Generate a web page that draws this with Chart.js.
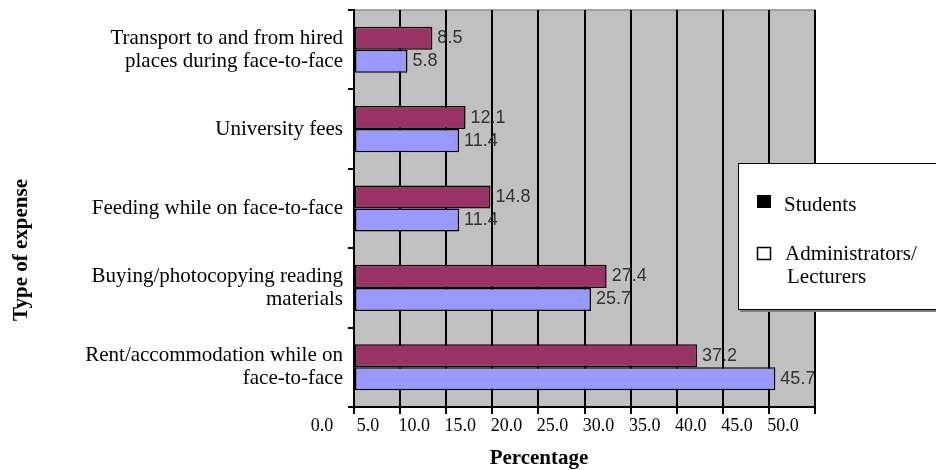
<!DOCTYPE html>
<html>
<head>
<meta charset="utf-8">
<script src="https://cdn.jsdelivr.net/npm/chart.js@4.4.1/dist/chart.umd.min.js"></script>
<style>
  body { margin: 0; background: #fff; }
  #wrap { width: 936px; height: 470px; }
</style>
</head>
<body>
<div id="wrap"><canvas id="chart" width="936" height="470"></canvas></div>
<script>
// Expense categories, top to bottom
const categories = [
    ["Transport to and from hired", "places during face-to-face"],
    "University fees",
    "Feeding while on face-to-face",
    ["Buying/photocopying reading", "materials"],
    ["Rent/accommodation while on", "face-to-face"],
];
const studentValues = [8.5, 12.1, 14.8, 27.4, 37.2];
const adminValues = [5.8, 11.4, 11.4, 25.7, 45.7];
const seriesNames = [["Students"], ["Administrators/", "Lecturers"]];
const xTitle = "Percentage";
const yTitle = "Type of expense";

const serif = "'Liberation Serif', 'Times New Roman', serif";
const sans = "'Liberation Sans', Arial, sans-serif";

// gray plot area with a light frame on top and right
const plotBackground = {
    id: "plotBackground",
    beforeDraw(chart) {
        const { ctx, chartArea: a } = chart;
        ctx.save();
        ctx.fillStyle = "#c0c0c0";
        ctx.fillRect(a.left, a.top, a.right - a.left, a.bottom - a.top);
        ctx.strokeStyle = "#8c8c8c";
        ctx.lineWidth = 1.5;
        ctx.beginPath();
        ctx.moveTo(a.left, a.top);
        ctx.lineTo(a.right, a.top);
        ctx.lineTo(a.right, a.bottom);
        ctx.stroke();
        ctx.restore();
    },
};

// value labels at the end of each bar
const valueLabels = {
    id: "valueLabels",
    afterDatasetsDraw(chart) {
        const ctx = chart.ctx;
        ctx.save();
        ctx.font = "18px " + sans;
        ctx.fillStyle = "#333";
        ctx.textBaseline = "middle";
        ctx.textAlign = "left";
        chart.data.datasets.forEach((ds, i) => {
            chart.getDatasetMeta(i).data.forEach((bar, j) => {
                ctx.fillText(ds.data[j].toFixed(1), bar.x + 5, bar.y);
            });
        });
        ctx.restore();
    },
};

// axis titles and the boxed legend
const extras = {
    id: "extras",
    afterDraw(chart) {
        const ctx = chart.ctx;
        ctx.save();
        ctx.fillStyle = "#000";
        ctx.font = "bold 21px " + serif;
        ctx.textAlign = "center";
        ctx.textBaseline = "middle";
        ctx.fillText(xTitle, 539, 459);
        ctx.translate(22, 250);
        ctx.rotate(-Math.PI / 2);
        ctx.fillText(yTitle, 0, 0);
        ctx.restore();

        // legend box
        ctx.save();
        ctx.fillStyle = "#808080";
        ctx.fillRect(740, 165, 200, 147);
        ctx.fillStyle = "#fff";
        ctx.fillRect(738, 163, 200, 147);
        ctx.strokeStyle = "#000";
        ctx.lineWidth = 1;
        ctx.strokeRect(738.5, 163.5, 200, 146);

        ctx.font = "21px " + serif;
        ctx.textAlign = "left";
        ctx.textBaseline = "alphabetic";
        ctx.fillStyle = "#000";
        ctx.fillRect(757, 195, 14, 13);
        seriesNames[0].forEach((t, k) => ctx.fillText(t, 784, 211 + k * 23));
        ctx.lineWidth = 1.5;
        ctx.strokeRect(757.5, 247.5, 13, 12);
        seriesNames[1].forEach((t, k) => ctx.fillText(t, 785 + k * 2, 260 + k * 23));
        ctx.restore();
    },
};

new Chart(document.getElementById("chart"), {
    type: "bar",
    data: {
        labels: categories,
        datasets: [
            {
                label: "Students",
                data: studentValues,
                backgroundColor: "#993366",
                borderColor: "#000",
                borderWidth: 1.5,
                borderSkipped: false,
            },
            {
                label: "Administrators/Lecturers",
                data: adminValues,
                backgroundColor: "#9999ff",
                borderColor: "#000",
                borderWidth: 1.5,
                borderSkipped: false,
            },
        ],
    },
    options: {
        indexAxis: "y",
        responsive: false,
        devicePixelRatio: 1,
        animation: false,
        layout: { padding: { top: 10, right: 121, left: 0, bottom: 0 } },
        datasets: { bar: { categoryPercentage: 0.58, barPercentage: 1 } },
        plugins: {
            legend: { display: false },
            tooltip: { enabled: false },
        },
        scales: {
            x: {
                min: 0,
                max: 50,
                afterFit: (s) => { s.height = 63; s.paddingLeft = 0; s.paddingRight = 0; },
                border: { color: "#000", width: 2 },
                grid: {
                    color: "#000",
                    lineWidth: 2,
                    tickLength: 7,
                },
                ticks: {
                    stepSize: 5,
                    labelOffset: -32,
                    padding: 1,
                    color: "#000",
                    font: { family: serif, size: 18 },
                    callback: (v) => Number(v).toFixed(1),
                },
            },
            y: {
                afterFit: (s) => { s.width = 354; s.paddingTop = 0; s.paddingBottom = 0; },
                border: { color: "#000", width: 2 },
                grid: {
                    drawOnChartArea: false,
                    color: "#000",
                    lineWidth: 2,
                    tickLength: 6,
                },
                ticks: {
                    padding: 5,
                    color: "#000",
                    font: { family: serif, size: 21, lineHeight: 1.1 },
                },
            },
        },
    },
    plugins: [plotBackground, valueLabels, extras],
});
</script>
</body>
</html>
